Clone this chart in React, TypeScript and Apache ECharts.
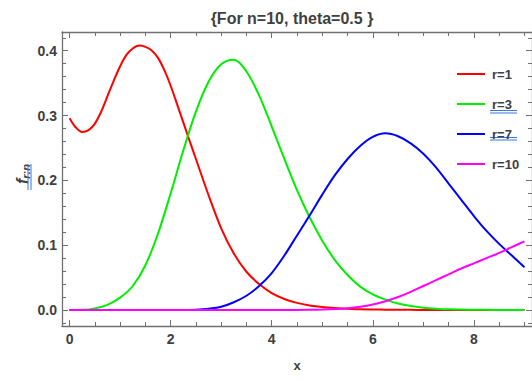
import React, { useEffect, useRef } from "react";
import * as echarts from "echarts";

const xs = [0, 0.25, 0.5, 0.75, 1, 1.25, 1.5, 1.75, 2, 2.25, 2.5, 2.75, 3, 3.25, 3.5, 3.75, 4, 4.25, 4.5, 4.75, 5, 5.25, 5.5, 5.75, 6, 6.25, 6.5, 6.75, 7, 7.25, 7.5, 7.75, 8, 8.25, 8.5, 8.75, 9];

// r=1 is sampled more finely where it bends sharply
const r1X = [0, 0.125, 0.25, 0.375, 0.5, 0.625, 0.75, 0.875, 1, 1.125, 1.25, 1.375, 1.5, 1.625, 1.75, 1.875, 2, 2.125, 2.25, 2.375, 2.5, 2.75, 3, 3.25, 3.5, 3.75, 4, 4.25, 4.5, 4.75, 5, 5.25, 5.5, 5.75, 6, 6.25, 6.5, 6.75, 7, 7.5, 8, 8.5, 9];
const r1 = [0.296, 0.2815, 0.2745, 0.2775, 0.2875, 0.306, 0.33, 0.354, 0.376, 0.3935, 0.4035, 0.408, 0.406, 0.4005, 0.389, 0.37, 0.346, 0.318, 0.2895, 0.261, 0.233, 0.177, 0.126, 0.087, 0.059, 0.04, 0.026, 0.017, 0.011, 0.007, 0.0045, 0.003, 0.002, 0.0012, 0.0008, 0.0005, 0.0003, 0.0002, 0.0001, 0, 0, 0, 0];
const r3 = [0, 0.0003, 0.0025, 0.008, 0.019, 0.037, 0.069, 0.118, 0.18, 0.246, 0.306, 0.352, 0.379, 0.386, 0.368, 0.331, 0.283, 0.233, 0.185, 0.143, 0.107, 0.077, 0.054, 0.036, 0.024, 0.016, 0.01, 0.006, 0.0035, 0.002, 0.001, 0.0006, 0.0003, 0.0002, 0.0001, 0, 0];
const r7 = [0, 0, 0, 0, 0, 0, 0, 0, 0, 0, 0.0005, 0.002, 0.005, 0.012, 0.022, 0.037, 0.057, 0.084, 0.115, 0.146, 0.178, 0.208, 0.233, 0.253, 0.267, 0.2725, 0.268, 0.257, 0.241, 0.22, 0.195, 0.17, 0.145, 0.122, 0.102, 0.084, 0.066];
const r10 = [0, 0, 0, 0, 0, 0, 0, 0, 0, 0, 0, 0, 0, 0, 0, 0, 0, 0, 0, 0.0003, 0.0007, 0.0014, 0.0027, 0.005, 0.0085, 0.0135, 0.02, 0.028, 0.037, 0.046, 0.055, 0.064, 0.072, 0.08, 0.088, 0.097, 0.106];

const seriesNames = ["r=1", "r=3", "r=7", "r=10"];
const seriesX = [r1X, xs, xs, xs];
const seriesValues = [r1, r3, r7, r10];
const colors = ["#ff0000", "#00ee00", "#0000ff", "#ff00ff"];

const xMajor = [0, 2, 4, 6, 8];
const xMinor = [0.5, 1, 1.5, 2.5, 3, 3.5, 4.5, 5, 5.5, 6.5, 7, 7.5, 8.5, 9];
const yMajor = [0, 0.1, 0.2, 0.3, 0.4];
const yMinor = [-0.02, 0.02, 0.04, 0.06, 0.08, 0.12, 0.14, 0.16, 0.18, 0.22, 0.24, 0.26, 0.28, 0.32, 0.34, 0.36, 0.38, 0.42];

const titleText = "{For n=10, theta=0.5 }";
const xName = "x";

const X_MIN = -0.15, X_MAX = 9.15, Y_MIN = -0.0247, Y_MAX = 0.4289;
const FRAME = "#707070";
const LABEL = "#404040";
const FONT = "'Liberation Sans', Arial, sans-serif";
const UL = "#3a74dc";
const LINE_ICON = "path://M0,0L0.01,0L0,0.01Z M0,6L28,6L28,8L0,8Z M28,14L27.99,14L28,13.99Z";

function mkX(position: string, ticks: number[], len: number, line: boolean, labels: boolean, name?: string) {
  return {
    type: "value", position, min: X_MIN, max: X_MAX,
    name: name || "", nameLocation: "middle", nameGap: 33,
    nameTextStyle: { color: LABEL, fontSize: 13, fontWeight: "bold", fontFamily: FONT },
    axisLine: { show: line, onZero: false, lineStyle: { color: FRAME, width: 1.3 } },
    axisTick: { show: true, inside: true, length: len, customValues: ticks, lineStyle: { color: FRAME, width: 1 } },
    axisLabel: labels
      ? { show: true, customValues: ticks, margin: 6, color: LABEL, fontSize: 14, fontWeight: "bold", fontFamily: FONT, formatter: (v: number) => String(v) }
      : { show: false },
    splitLine: { show: false },
  };
}
function mkY(position: string, ticks: number[], len: number, line: boolean, labels: boolean) {
  return {
    type: "value", position, min: Y_MIN, max: Y_MAX,
    axisLine: { show: line, onZero: false, lineStyle: { color: FRAME, width: 1.3 } },
    axisTick: { show: true, inside: true, length: len, customValues: ticks, lineStyle: { color: FRAME, width: 1 } },
    axisLabel: labels
      ? { show: true, customValues: ticks, margin: 5, color: LABEL, fontSize: 14, fontWeight: "bold", fontFamily: FONT, formatter: (v: number) => v.toFixed(1) }
      : { show: false },
    splitLine: { show: false },
  };
}

export default function App() {
  const ref = useRef<HTMLDivElement>(null);
  useEffect(() => {
    const chart = echarts.init(ref.current!, null, { renderer: "svg" });
    chart.setOption({
      animation: false,
      backgroundColor: "#ffffff",
      grid: { left: 62, top: 32, width: 473.7, height: 294 },
      xAxis: [
        mkX("bottom", xMajor, 6, true, true, xName),
        mkX("bottom", xMinor, 4, false, false),
        mkX("top", xMajor, 6, true, false),
        mkX("top", xMinor, 4, false, false),
      ],
      yAxis: [
        mkY("left", yMajor, 6, true, true),
        mkY("left", yMinor, 4, false, false),
        mkY("right", yMajor, 6, true, false),
        mkY("right", yMinor, 4, false, false),
      ],
      legend: {
        orient: "vertical", left: 452, top: 62,
        itemWidth: 28, itemHeight: 14, itemGap: 16,
        icon: LINE_ICON,
        data: seriesNames,
        textStyle: { color: LABEL, fontSize: 13, fontWeight: "bold", fontFamily: FONT, padding: [0, 0, 0, 2] },
      },
      graphic: [
        { type: "text", x: 292, y: 18, style: { text: titleText, fill: LABEL, font: "bold 16px " + FONT, align: "center", verticalAlign: "middle" } },
        {
          type: "text", x: 22, y: 174, rotation: Math.PI / 2,
          style: {
            text: "{f|f}{s|r:n}", align: "center", verticalAlign: "middle", fill: LABEL,
            rich: {
              f: { fontSize: 16, fontStyle: "italic", fontWeight: "bold", fontFamily: FONT, fill: LABEL },
              s: { fontSize: 11, fontStyle: "italic", fontWeight: "bold", fontFamily: FONT, fill: LABEL, padding: [7, 0, 0, 0] },
            },
          },
        },
        { type: "line", shape: { x1: 28, y1: 164, x2: 28, y2: 190 }, style: { stroke: UL, lineWidth: 1 } },
        { type: "line", shape: { x1: 31, y1: 164, x2: 31, y2: 190 }, style: { stroke: UL, lineWidth: 1 } },
        { type: "line", shape: { x1: 490, y1: 110.5, x2: 517, y2: 110.5 }, style: { stroke: UL, lineWidth: 1 } },
        { type: "line", shape: { x1: 490, y1: 113, x2: 517, y2: 113 }, style: { stroke: UL, lineWidth: 1 } },
        { type: "line", shape: { x1: 490, y1: 137.5, x2: 517, y2: 137.5 }, style: { stroke: UL, lineWidth: 1 } },
        { type: "line", shape: { x1: 490, y1: 140, x2: 517, y2: 140 }, style: { stroke: UL, lineWidth: 1 } },
      ],
      series: seriesNames.map((name, i) => ({
        name, type: "line", xAxisIndex: 0, yAxisIndex: 0,
        data: seriesX[i].map((x, j) => [x, seriesValues[i][j]]),
        smooth: 0.33, symbol: "none", showSymbol: false,
        lineStyle: { color: colors[i], width: 2 },
        itemStyle: { color: colors[i] },
        clip: true,
      })),
    });
    return () => chart.dispose();
  }, []);
  return <div ref={ref} style={{ position: "absolute", left: 0, top: 0, width: 532, height: 381, background: "#fff" }} />;
}
